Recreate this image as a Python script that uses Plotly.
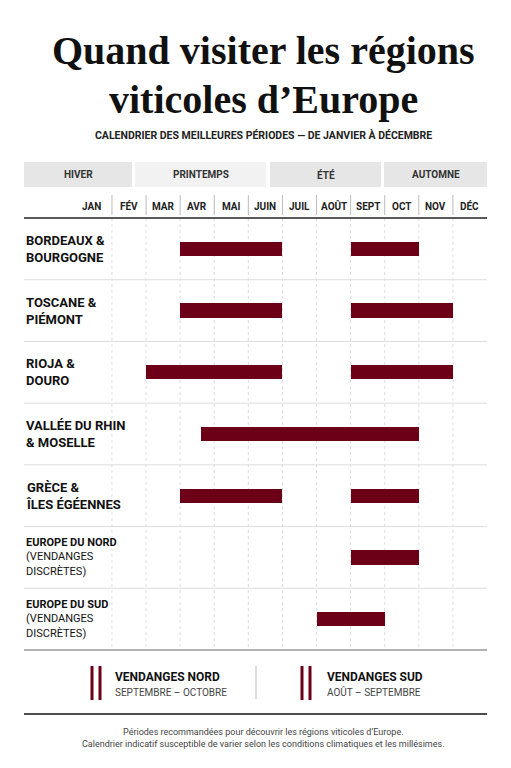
import plotly.graph_objects as go

months = ["JAN", "FÉV", "MAR", "AVR", "MAI", "JUIN", "JUIL", "AOÛT", "SEPT", "OCT", "NOV", "DÉC"]
seasons = ["HIVER", "PRINTEMPS", "ÉTÉ", "AUTOMNE"]
regions = ["BORDEAUX &<br>BOURGOGNE", "TOSCANE &<br>PIÉMONT", "RIOJA &<br>DOURO",
           "VALLÉE DU RHIN<br>& MOSELLE", "GRÈCE &<br>ÎLES ÉGÉENNES",
           "EUROPE DU NORD<br><span style='font-weight:400'>(VENDANGES<br>DISCRÈTES)</span>",
           "EUROPE DU SUD<br><span style='font-weight:400'>(VENDANGES<br>DISCRÈTES)</span>"]
# month m (FÉV=1 ... DÉC=11) spans [m, m+1]; JAN is the wide label column
bar_region = [0, 0, 1, 1, 2, 2, 3, 4, 4, 5, 6]
bar_start = [3, 8, 3, 8, 2, 8, 3.6, 3, 8, 8, 7]
bar_end = [6, 10, 6, 11, 6, 11, 10, 6, 10, 10, 9]

RED = "#6b0016"
X0, X1 = -1.58, 12
OFF = 8


def fx(p):
    return (p - OFF) / 511


def fy(p):
    return 1 - (p - OFF) / 768


fig = go.Figure()
fig.add_trace(go.Bar(
    orientation="h", y=bar_region, base=bar_start,
    x=[e - s for s, e in zip(bar_start, bar_end)],
    width=0.23, marker=dict(color=RED, line=dict(width=0)),
    hoverinfo="skip", showlegend=False))

shapes = []
for b in range(1, 12):
    shapes.append(dict(type="line", xref="x", yref="y", x0=b, x1=b, y0=-0.5, y1=6.5,
                       line=dict(color="#dddddd", width=1, dash="dot"), layer="below"))
    shapes.append(dict(type="line", xref="x", yref="paper", x0=b, x1=b, y0=fy(215), y1=fy(195),
                       line=dict(color="#bbbbbb", width=1)))
for r in range(1, 7):
    shapes.append(dict(type="line", xref="paper", yref="y", x0=fx(24), x1=fx(487), y0=r-0.5, y1=r-0.5,
                       line=dict(color="#dddddd", width=1), layer="below"))
shapes.append(dict(type="line", xref="paper", yref="paper", x0=fx(24), x1=fx(487), y0=fy(218), y1=fy(218),
                   line=dict(color="#222222", width=1.5)))
shapes.append(dict(type="line", xref="paper", yref="paper", x0=fx(24), x1=fx(487), y0=fy(650), y1=fy(650),
                   line=dict(color="#666666", width=1)))
shapes.append(dict(type="line", xref="paper", yref="paper", x0=fx(24), x1=fx(487), y0=fy(714), y1=fy(714),
                   line=dict(color="#111111", width=1.5)))
season_px = [(24, 132, "#e6e6e6"), (135, 266, "#f2f2f2"), (270, 381, "#e6e6e6"), (384, 487, "#e6e6e6")]
anns = []


def ann(x, y, text, size, color="#222", family="Roboto", xref="paper", yref="paper", xanchor="center", **kw):
    anns.append(dict(x=x, y=y, xref=xref, yref=yref, text=text, showarrow=False, xanchor=xanchor,
                     yanchor="middle", font=dict(size=size, color=color, family=family), **kw))


for (a, b, c), s in zip(season_px, seasons):
    shapes.append(dict(type="rect", xref="paper", yref="paper", x0=fx(a), x1=fx(b),
                       y0=fy(187), y1=fy(162), fillcolor=c, line=dict(width=0), layer="below"))
    ann(fx((a + b) / 2), fy(175), f"<b>{s}</b>", 10, "#333")
for i, m in enumerate(months):
    if i == 0:
        ann(0.75, fy(206), f"<b>{m}</b>", 10, xref="x", xanchor="right")
    else:
        ann(i + 0.5, fy(206), f"<b>{m}</b>", 10, xref="x")
for i, r in enumerate(regions):
    sz = 13 if i < 5 else 11
    ann(fx(24), i, f"<b>{r}</b>", sz, "#111", yref="y", xanchor="left", align="left")
ann(0.5, fy(50), "<b>Quand visiter les régions</b>", 40, "#111", "Liberation Serif")
ann(0.5, fy(100), "<b>viticoles d’Europe</b>", 40, "#111", "Liberation Serif")
ann(0.5, fy(135), "<b>CALENDRIER DES MEILLEURES PÉRIODES — DE JANVIER À DÉCEMBRE</b>", 10.5, "#222")
for bx, t1, t2, tx in [(92, "VENDANGES NORD", "SEPTEMBRE – OCTOBRE", 113),
                       (302, "VENDANGES SUD", "AOÛT – SEPTEMBRE", 325)]:
    for dx in (0, 8):
        shapes.append(dict(type="line", xref="paper", yref="paper", x0=fx(bx + dx), x1=fx(bx + dx),
                           y0=fy(700), y1=fy(666), line=dict(color=RED, width=3)))
    ann(fx(tx), fy(677), f"<b>{t1}</b>", 12, "#111", xanchor="left")
    ann(fx(tx), fy(692), t2, 10, "#444", xanchor="left")
shapes.append(dict(type="line", xref="paper", yref="paper", x0=fx(256), x1=fx(256), y0=fy(699), y1=fy(666),
                   line=dict(color="#bbbbbb", width=1)))
ann(0.5, fy(738), "Périodes recommandées pour découvrir les régions viticoles d’Europe.<br>"
    "Calendrier indicatif susceptible de varier selon les conditions climatiques et les millésimes.", 9, "#444")

fig.update_layout(
    width=511, height=768, margin=dict(l=0, r=0, t=0, b=0),
    paper_bgcolor="white", plot_bgcolor="white",
    xaxis=dict(domain=[fx(24), fx(487)], range=[X0, X1], showgrid=False, zeroline=False,
               showticklabels=False, fixedrange=True),
    yaxis=dict(domain=[fy(650), fy(218)], range=[6.5, -0.5], showgrid=False, zeroline=False,
               showticklabels=False, fixedrange=True),
    shapes=shapes, annotations=anns, bargap=0)
fig.write_html("out.html")
